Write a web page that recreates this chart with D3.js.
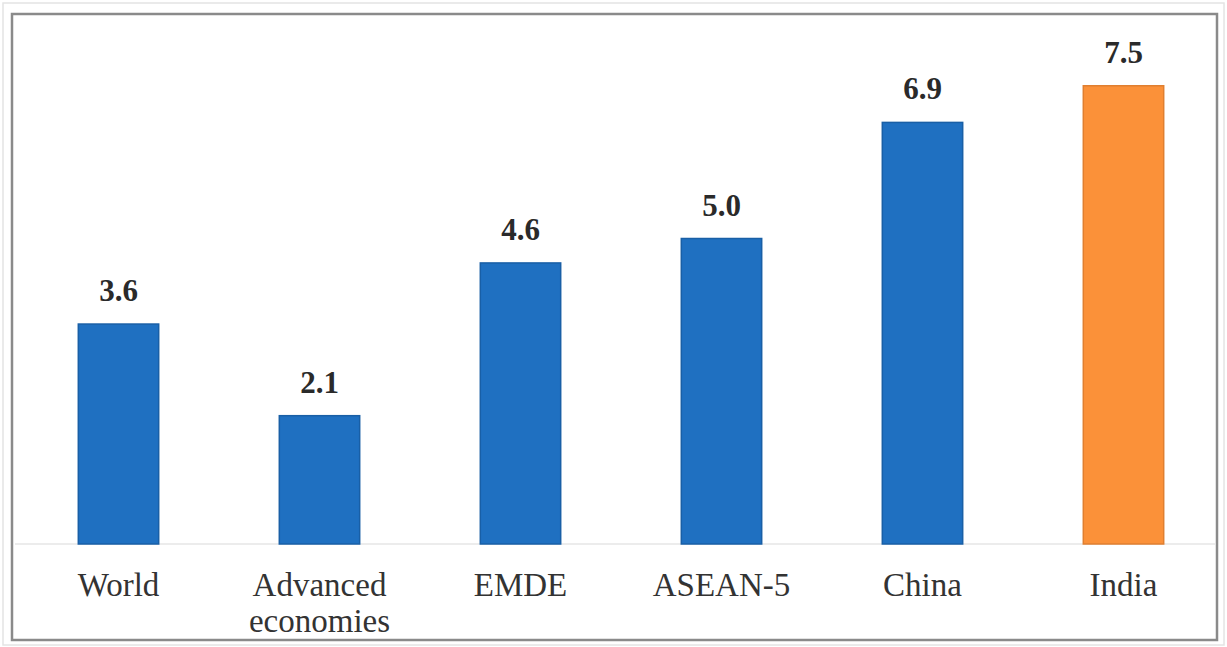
<!DOCTYPE html>
<html>
<head>
<meta charset="utf-8">
<script src="https://cdn.jsdelivr.net/npm/d3@7"></script>
<style>
  html, body { margin: 0; padding: 0; background: #ffffff; }
  svg { display: block; }
  text { font-family: "Liberation Serif", "DejaVu Serif", serif; }
</style>
</head>
<body>
<svg id="chart" width="1227" height="647"></svg>
<script>
// Real GDP growth projections (%), by economy group
const categories = ["World", "Advanced economies", "EMDE", "ASEAN-5", "China", "India"];
const growth = [3.6, 2.1, 4.6, 5.0, 6.9, 7.5];
const highlight = ["India"];

const W = 1227, H = 647;
const svg = d3.select("#chart");

// outer frame
svg.append("rect").attr("x", 3).attr("y", 3).attr("width", W - 6).attr("height", H - 5)
  .attr("fill", "none").attr("stroke", "#e4e4e4").attr("stroke-width", 1.5);
svg.append("rect").attr("x", 12).attr("y", 14).attr("width", 1205).attr("height", 626)
  .attr("fill", "#ffffff").attr("stroke", "#8a8a8a").attr("stroke-width", 2.5);

const plot = { left: 18, right: 1224, top: 20, bottom: 544 };

const x = d3.scaleBand()
  .domain(categories)
  .range([plot.left, plot.right])
  .paddingInner(0.6)
  .paddingOuter(0.3);

const y = d3.scaleLinear()
  .domain([0, 8.56])
  .range([plot.bottom, plot.bottom - 8.56 * 61.1]);

const data = categories.map((c, i) => ({ cat: c, v: growth[i] }));

// baseline
svg.append("line")
  .attr("x1", 15).attr("x2", 1215)
  .attr("y1", y(0)).attr("y2", y(0))
  .attr("stroke", "#e6e6e6").attr("stroke-width", 1.5);

// bars
svg.selectAll("rect.bar").data(data).enter().append("rect")
  .attr("class", "bar")
  .attr("x", d => x(d.cat))
  .attr("width", x.bandwidth())
  .attr("y", d => y(d.v))
  .attr("height", d => y(0) - y(d.v))
  .attr("fill", d => highlight.includes(d.cat) ? "#fb9139" : "#1f70c1")
  .attr("stroke", d => highlight.includes(d.cat) ? "#e07f30" : "#195fa6")
  .attr("stroke-width", 1.5);

// value labels
svg.selectAll("text.val").data(data).enter().append("text")
  .attr("class", "val")
  .attr("x", d => x(d.cat) + x.bandwidth() / 2)
  .attr("y", d => y(d.v) - 23)
  .attr("text-anchor", "middle")
  .attr("font-size", 31)
  .attr("font-weight", "bold")
  .attr("fill", "#2a2a2a")
  .text(d => d.v.toFixed(1));

// category labels, wrapped on spaces
const xAxis = svg.append("g");
data.forEach(d => {
  const words = d.cat.split(" ");
  const t = xAxis.append("text")
    .attr("x", x(d.cat) + x.bandwidth() / 2)
    .attr("y", 596)
    .attr("text-anchor", "middle")
    .attr("font-size", 33)
    .attr("fill", "#333333");
  words.forEach((w, i) => {
    t.append("tspan")
      .attr("x", x(d.cat) + x.bandwidth() / 2)
      .attr("dy", i === 0 ? 0 : 36)
      .text(w);
  });
});
</script>
</body>
</html>
